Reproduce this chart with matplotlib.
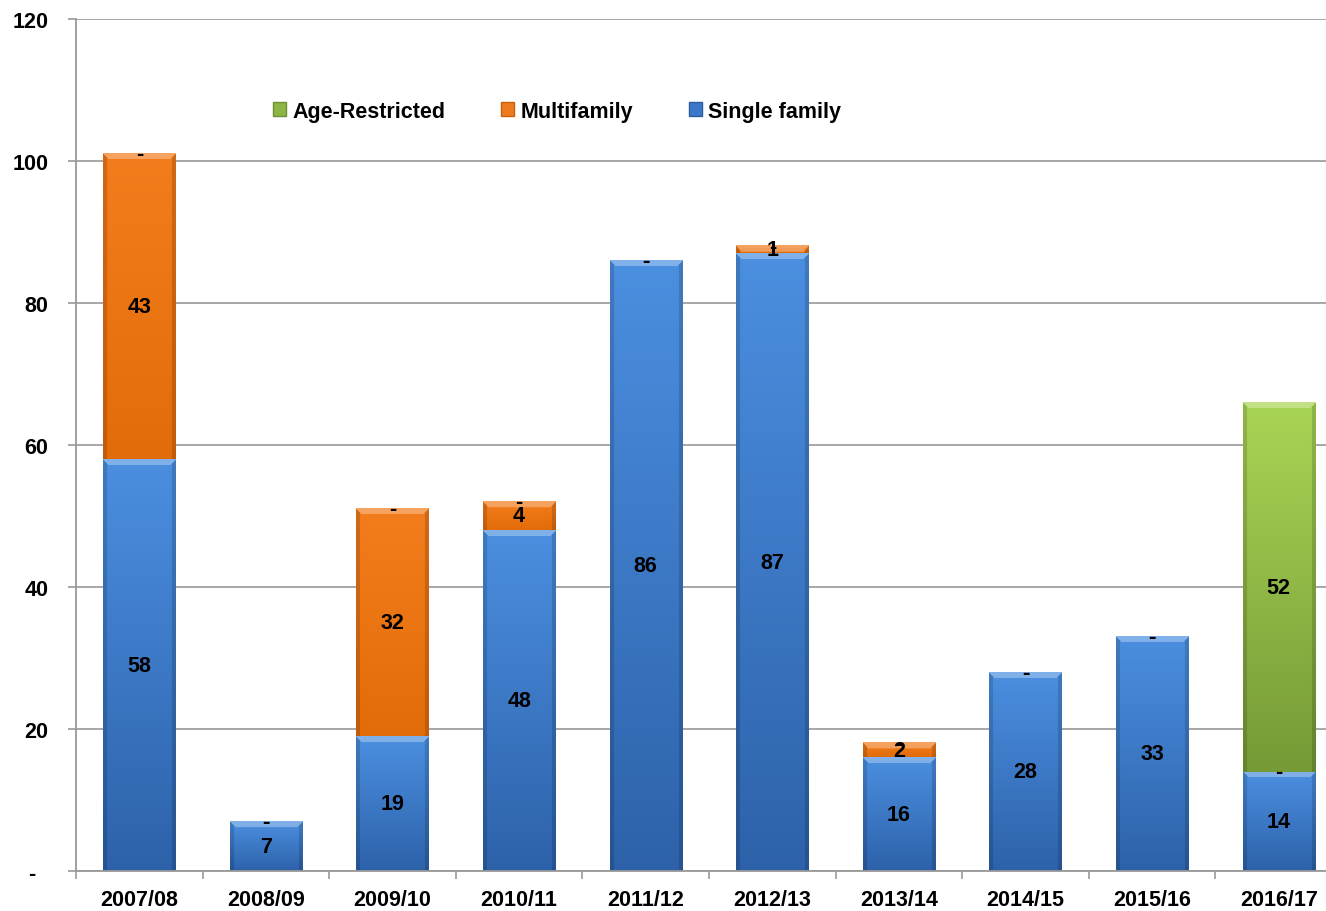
import numpy as np
import matplotlib
matplotlib.use("Agg")
import matplotlib.pyplot as plt
from matplotlib.patches import Patch
from matplotlib.colors import to_rgb

years = ["2007/08", "2008/09", "2009/10", "2010/11", "2011/12",
         "2012/13", "2013/14", "2014/15", "2015/16", "2016/17"]
single_family = [58, 7, 19, 48, 86, 87, 16, 28, 33, 14]
multifamily = [43, 0, 32, 4, 0, 1, 2, 0, 0, 0]
age_restricted = [0, 0, 0, 0, 0, 0, 0, 0, 0, 52]

series = [
    ("Single family", single_family, "#4b8fe0", "#2d62aa"),
    ("Multifamily", multifamily, "#f37c1c", "#e36c0a"),
    ("Age-Restricted", age_restricted, "#a9d555", "#759a36"),
]

plt.rcParams['font.family'] = ['Liberation Sans', 'DejaVu Sans']
plt.rcParams['font.weight'] = 'bold'
plt.rcParams['font.size'] = 15.5

fig = plt.figure(figsize=(13.26, 9.12), dpi=100)
ax = fig.add_axes([76 / 1326, 40 / 912, 1266 / 1326, 852 / 912])


def shade_bar(ax, patch, top_col, bot_col):
    # gradient fill with a simple bevel, clipped to the bar
    x0, y0 = patch.get_x(), patch.get_y()
    w, h = patch.get_width(), patch.get_height()
    if h <= 0:
        return
    ny = max(int(h * 7.1), 2)
    nx = 72
    t = np.array(to_rgb(top_col))
    b = np.array(to_rgb(bot_col))
    yy = np.linspace(1, 0, ny)[:, None, None]
    img = b + (t - b) * yy
    img = np.repeat(img, nx, axis=1)
    px = np.arange(nx)[None, :]
    py = np.arange(ny)[:, None]
    dside = np.minimum(px, nx - 1 - px)
    top_bev = (py < 6) & (py <= dside)
    side_bev = (dside < 4) & (dside < py)
    img[top_bev] = img[top_bev] * 0.7 + 0.3
    img[side_bev] = img[side_bev] * 0.85
    ax.imshow(img, extent=(x0, x0 + w, y0, y0 + h), aspect='auto',
              origin='upper', clip_path=patch, zorder=2,
              interpolation='bilinear')


x = np.arange(len(years))
bottom = np.zeros(len(years))
for name, vals, c_top, c_bot in series:
    vals = np.array(vals, dtype=float)
    bars = ax.bar(x, vals, 0.57, bottom=bottom, color='none',
                  edgecolor='none', zorder=2)
    for patch in bars:
        shade_bar(ax, patch, c_top, c_bot)
    for xi, v, b0 in zip(x, vals, bottom):
        lab = str(int(v)) if v else "-"
        ax.text(xi, b0 + v / 2, lab, ha='center', va='center',
                fontsize=15.5, fontweight='bold', color='black', zorder=5)
    bottom = bottom + vals

ax.set_xlim(-0.5, len(years) - 0.5)
ax.set_ylim(0, 120)

ax.set_yticks(np.arange(0, 121, 20))
ax.set_yticklabels(["-  "] + [str(v) for v in range(20, 121, 20)])
ax.set_xticks(x)
ax.set_xticklabels(years)
ax.set_xticks(np.arange(-0.5, len(years), 1), minor=True)
ax.tick_params(axis='x', which='major', length=0, pad=13)
ax.tick_params(axis='x', which='minor', length=6, color='#999999', width=1.2)
ax.tick_params(axis='y', length=6, color='#999999', width=1.2, pad=14)

ax.yaxis.grid(True, color='#a0a0a0', linewidth=1.3)
ax.set_axisbelow(True)
for s in ['top', 'right']:
    ax.spines[s].set_visible(False)
for s in ['left', 'bottom']:
    ax.spines[s].set_color('#999999')
    ax.spines[s].set_linewidth(1.3)

handles = [Patch(facecolor="#8cb545", edgecolor='#6d8f34'),
           Patch(facecolor="#ed7a1e", edgecolor='#c8600c'),
           Patch(facecolor="#3c78c8", edgecolor='#2a5c9e')]
ax.legend(handles, ["Age-Restricted", "Multifamily", "Single family"],
          ncol=3, loc='center', bbox_to_anchor=(0.38, 0.892),
          frameon=False, handlelength=0.6, handleheight=0.6,
          handletextpad=0.3, columnspacing=2.6,
          prop={'size': 15.5, 'weight': 'bold'})

fig.savefig("out.png", dpi=100)
